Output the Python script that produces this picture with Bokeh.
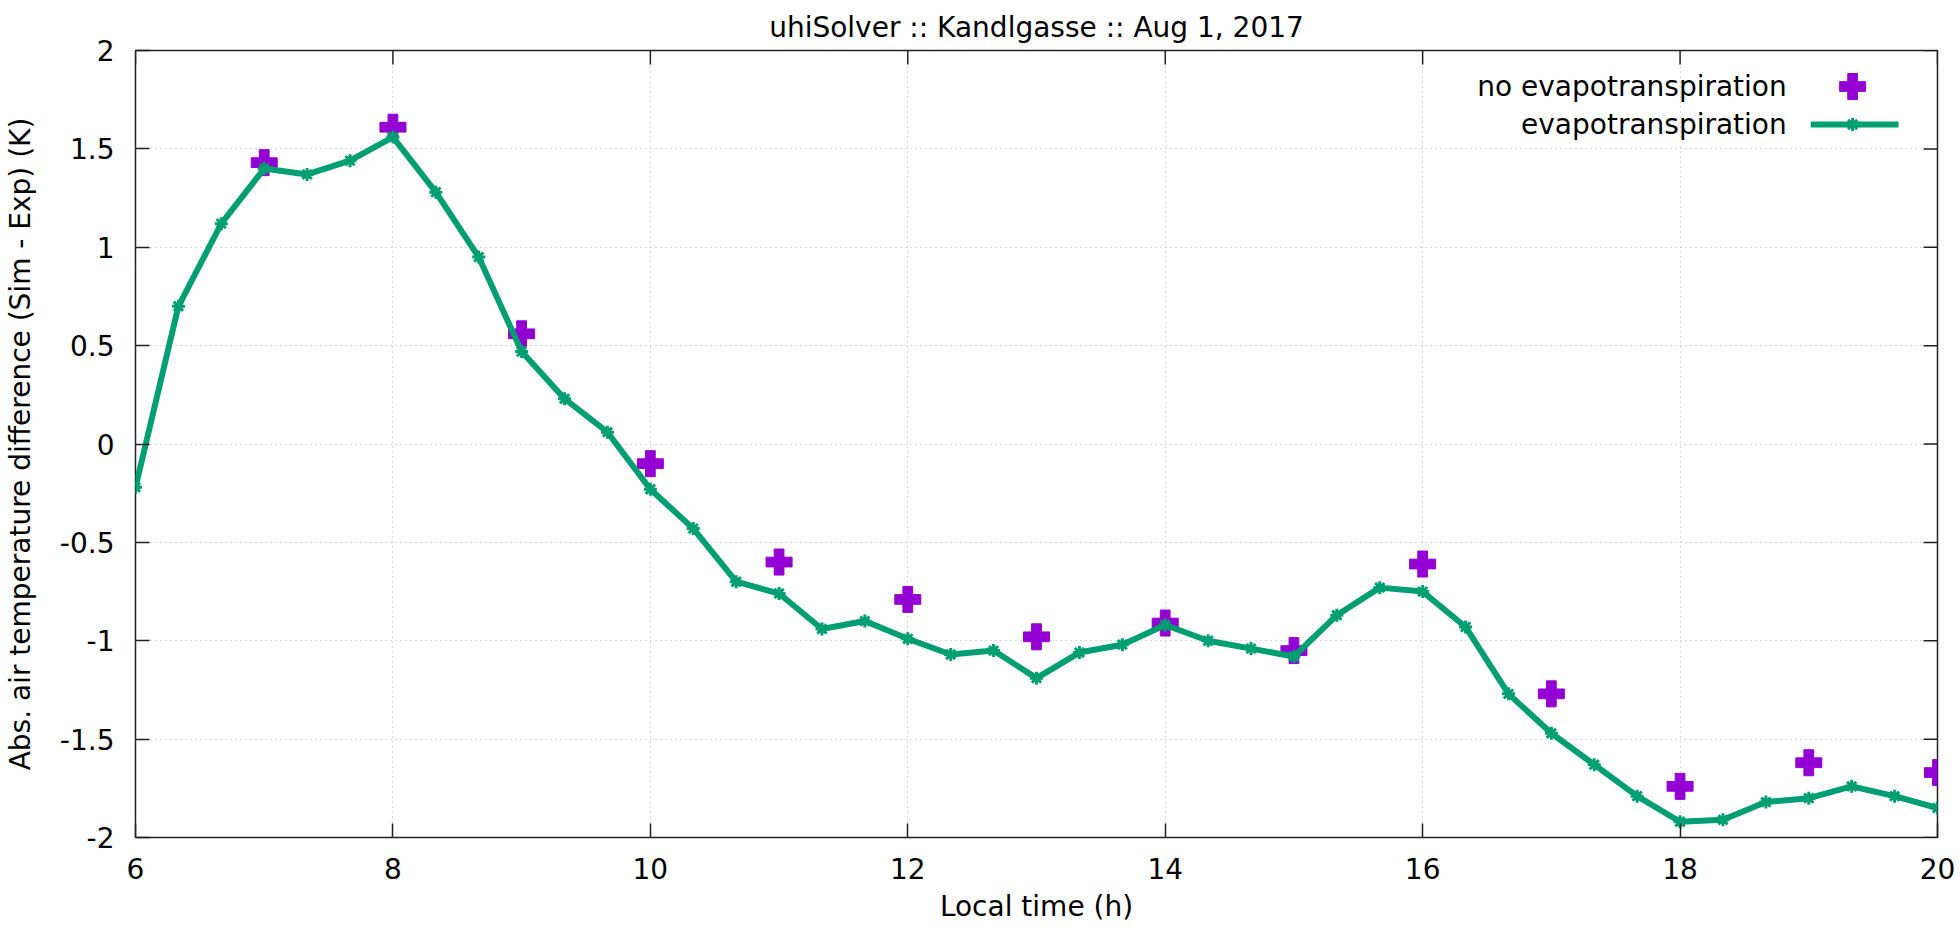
from bokeh.plotting import figure
from bokeh.models import FixedTicker, CustomJSTickFormatter, Range1d, ColumnDataSource
from bokeh.embed import file_html
from bokeh.resources import INLINE
from bokeh.core.properties import value

# ---------------- data ----------------
title = "uhiSolver :: Kandlgasse :: Aug 1, 2017"
x_label = "Local time (h)"
y_label = "Abs. air temperature difference (Sim - Exp) (K)"
series_names = ["no evapotranspiration", "evapotranspiration"]

evap_times = ["6:00", "6:20", "6:40", "7:00", "7:20", "7:40", "8:00", "8:20", "8:40",
              "9:00", "9:20", "9:40", "10:00", "10:20", "10:40", "11:00", "11:20", "11:40",
              "12:00", "12:20", "12:40", "13:00", "13:20", "13:40", "14:00", "14:20", "14:40",
              "15:00", "15:20", "15:40", "16:00", "16:20", "16:40", "17:00", "17:20", "17:40",
              "18:00", "18:20", "18:40", "19:00", "19:20", "19:40", "20:00"]
evap_values = [-0.22, 0.70, 1.12, 1.40, 1.37, 1.44, 1.56, 1.28, 0.95,
               0.47, 0.23, 0.06, -0.23, -0.43, -0.70, -0.76, -0.94, -0.90,
               -0.99, -1.07, -1.05, -1.19, -1.06, -1.02, -0.92, -1.00, -1.04,
               -1.08, -0.87, -0.73, -0.75, -0.93, -1.27, -1.47, -1.63, -1.79,
               -1.92, -1.91, -1.82, -1.80, -1.74, -1.79, -1.85]

noevap_times = ["7:00", "8:00", "9:00", "10:00", "11:00", "12:00", "13:00",
                "14:00", "15:00", "16:00", "17:00", "18:00", "19:00", "20:00"]
noevap_values = [1.43, 1.61, 0.56, -0.10, -0.60, -0.79, -0.98,
                 -0.91, -1.05, -0.61, -1.27, -1.74, -1.62, -1.67]

x_ticks = [6, 8, 10, 12, 14, 16, 18, 20]
y_ticks = [-2, -1.5, -1, -0.5, 0, 0.5, 1, 1.5, 2]


def to_hours(t):
    h, m = t.split(":")
    return int(h) + int(m) / 60.0


evap_x = [to_hours(t) for t in evap_times]
noevap_x = [to_hours(t) for t in noevap_times]

# ---------------- style / layout ----------------
FONT = "DejaVu Sans"
FS = "28px"
GREEN = "#009e73"
PURPLE = "#9400d3"
FRAME = "#222222"
TICK_LEN = 14

W, H = 1960, 934
BL, BR, BT, BB = 132, 23, 50, 97
XMIN, XMAX, YMIN, YMAX = 6, 20, -2, 2
frame_w = W - BL - BR
frame_h = H - BT - BB


def px_to_x(px):  # px measured from frame left
    return XMIN + px * (XMAX - XMIN) / frame_w


def py_to_y(py):  # py measured from frame top
    return YMAX - py * (YMAX - YMIN) / frame_h


p = figure(width=W, height=H, x_range=Range1d(XMIN, XMAX), y_range=Range1d(YMIN, YMAX),
           output_backend="svg", toolbar_location=None,
           min_border_left=BL, min_border_right=BR, min_border_top=BT, min_border_bottom=BB,
           x_axis_label=x_label, y_axis_label=y_label)

p.title.text = title
p.title.text_font = FONT
p.title.text_font_size = FS
p.title.text_font_style = "normal"
p.title.text_color = "black"
p.title.align = "center"
p.title.standoff = 14
p.title.text_line_height = 1.0

p.outline_line_color = FRAME
p.outline_line_width = 1.5
p.background_fill_color = "white"
p.border_fill_color = "white"

fmt = CustomJSTickFormatter(code="return tick.toString();")

for ax in (p.xaxis[0], p.yaxis[0]):
    ax.axis_line_color = None
    ax.major_tick_in = TICK_LEN
    ax.major_tick_out = 0
    ax.minor_tick_line_color = None
    ax.major_tick_line_color = FRAME
    ax.major_tick_line_width = 1.5
    ax.major_label_text_font = FONT
    ax.major_label_text_font_size = FS
    ax.major_label_text_color = "black"
    ax.major_label_text_line_height = 1.0
    ax.axis_label_text_font = FONT
    ax.axis_label_text_font_size = FS
    ax.axis_label_text_font_style = "normal"
    ax.axis_label_text_color = "black"
    ax.axis_label_text_line_height = 1.0
    ax.formatter = fmt

p.xaxis[0].ticker = FixedTicker(ticks=x_ticks)
p.yaxis[0].ticker = FixedTicker(ticks=y_ticks)
p.xaxis[0].major_label_standoff = 20
p.xaxis[0].axis_label_standoff = 8
p.yaxis[0].major_label_standoff = 21
p.yaxis[0].axis_label_standoff = 20

for g, tk in ((p.xgrid[0], x_ticks), (p.ygrid[0], y_ticks)):
    g.ticker = FixedTicker(ticks=tk)
    g.grid_line_color = "#b4b4b4"
    g.grid_line_dash = "1 4"
    g.grid_line_width = 1

# mirror ticks on top and right edges (gnuplot style)
tick_dy = TICK_LEN * (YMAX - YMIN) / frame_h
tick_dx = TICK_LEN * (XMAX - XMIN) / frame_w
p.segment(x0=x_ticks, y0=[YMAX] * len(x_ticks), x1=x_ticks, y1=[YMAX - tick_dy] * len(x_ticks),
          line_color=FRAME, line_width=1.5)
p.segment(x0=[XMAX] * len(y_ticks), y0=y_ticks, x1=[XMAX - tick_dx] * len(y_ticks), y1=y_ticks,
          line_color=FRAME, line_width=1.5)

# ---------------- series ----------------
src_no = ColumnDataSource(dict(x=noevap_x, y=noevap_values))
src_ev = ColumnDataSource(dict(x=evap_x, y=evap_values))

p.scatter("x", "y", source=src_no, marker="plus", size=26, fill_color=PURPLE,
          line_color=PURPLE, line_width=1)
p.line("x", "y", source=src_ev, line_color=GREEN, line_width=6)
p.scatter("x", "y", source=src_ev, marker="asterisk", size=13, line_color=GREEN, line_width=3)

# ---------------- legend (gnuplot style: text right-aligned, sample to its right) ----------------
text_right = px_to_x(1654)
row_y = [py_to_y(36), py_to_y(74)]
sample_c = px_to_x(1720)
sample_l = px_to_x(1678)
sample_r = px_to_x(1766)

p.text(x=[text_right, text_right], y=row_y, text=series_names,
       text_align="right", text_baseline="middle", text_font=value(FONT),
       text_font_size=FS, text_color="black")
p.scatter(x=[sample_c], y=[row_y[0]], marker="plus", size=26, fill_color=PURPLE,
          line_color=PURPLE, line_width=1)
p.line(x=[sample_l, sample_r], y=[row_y[1], row_y[1]], line_color=GREEN, line_width=6)
p.scatter(x=[sample_c], y=[row_y[1]], marker="asterisk", size=13, line_color=GREEN, line_width=3)

open("out.html", "w").write(file_html(p, INLINE))
